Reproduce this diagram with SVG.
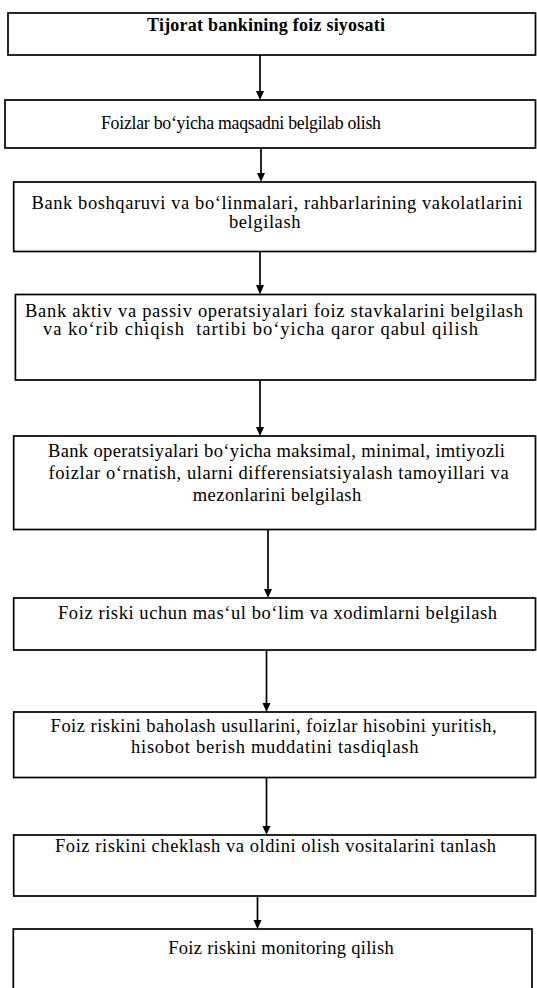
<svg xmlns="http://www.w3.org/2000/svg" width="537" height="988" viewBox="0 0 537 988">
  <defs>
    <style>
      .box { fill: #fff; stroke: #000; stroke-width: 1.7; }
      .lbl { font-family: "Liberation Serif", "Times New Roman", serif; font-size: 18.5px; fill: #000; text-anchor: middle; }
      .ttl { font-weight: bold; font-size: 18px; }
      .sm { font-size: 17.8px; }
      .link { stroke: #000; stroke-width: 1.7; fill: none; }
      .head { fill: #000; }
    </style>
  </defs>
  <rect width="537" height="988" fill="#fff"/>

  <!-- connectors: vertical links with filled arrowheads -->
  <g id="connectors">
    <line class="link" x1="260" y1="55" x2="260" y2="92"/>
    <path class="head" d="M256,91 L264,91 L260,100 Z"/>
    <line class="link" x1="261" y1="148" x2="261" y2="174"/>
    <path class="head" d="M257,173 L265,173 L261,182 Z"/>
    <line class="link" x1="260" y1="251.5" x2="260" y2="286"/>
    <path class="head" d="M256,285 L264,285 L260,294.5 Z"/>
    <line class="link" x1="260" y1="380" x2="260" y2="428"/>
    <path class="head" d="M256,427 L264,427 L260,436 Z"/>
    <line class="link" x1="268" y1="529.5" x2="268" y2="590"/>
    <path class="head" d="M264,589 L272,589 L268,598 Z"/>
    <line class="link" x1="266.5" y1="650" x2="266.5" y2="704"/>
    <path class="head" d="M262.5,703 L270.5,703 L266.5,712 Z"/>
    <line class="link" x1="266.5" y1="777.5" x2="266.5" y2="827"/>
    <path class="head" d="M262.5,826 L270.5,826 L266.5,835 Z"/>
    <line class="link" x1="257.5" y1="896" x2="257.5" y2="921"/>
    <path class="head" d="M253.5,920 L261.5,920 L257.5,929 Z"/>
  </g>

  <!-- nodes -->
  <g id="n1">
    <rect class="box" x="8" y="13" width="527.5" height="42"/>
    <text class="lbl ttl" x="266" y="30.5" textLength="238" lengthAdjust="spacing">Tijorat bankining foiz siyosati</text>
  </g>
  <g id="n2">
    <rect class="box" x="5" y="100" width="530.5" height="48"/>
    <text class="lbl sm" x="241" y="128.5" textLength="280" lengthAdjust="spacing">Foizlar bo‘yicha maqsadni belgilab olish</text>
  </g>
  <g id="n3">
    <rect class="box" x="13.7" y="182" width="521.8" height="69.5"/>
    <text class="lbl" x="277" y="208.5" textLength="491" lengthAdjust="spacing">Bank boshqaruvi va bo‘linmalari, rahbarlarining vakolatlarini</text>
    <text class="lbl" x="265" y="227.5" letter-spacing="0.6">belgilash</text>
  </g>
  <g id="n4">
    <rect class="box" x="15.4" y="294.5" width="520.1" height="85.5"/>
    <text class="lbl" x="274" y="316.5" textLength="498" lengthAdjust="spacing">Bank aktiv va passiv operatsiyalari foiz stavkalarini belgilash</text>
    <text class="lbl" x="260.5" y="335" textLength="435" lengthAdjust="spacing" xml:space="preserve">va ko‘rib chiqish  tartibi bo‘yicha qaror qabul qilish</text>
  </g>
  <g id="n5">
    <rect class="box" x="13.7" y="436" width="521.8" height="93.5"/>
    <text class="lbl" x="276.5" y="456.5" textLength="457" lengthAdjust="spacing">Bank operatsiyalari bo‘yicha maksimal, minimal, imtiyozli</text>
    <text class="lbl" x="278.6" y="478.5" textLength="460" lengthAdjust="spacing">foizlar o‘rnatish, ularni differensiatsiyalash tamoyillari va</text>
    <text class="lbl" x="277" y="501" textLength="168.5" lengthAdjust="spacing">mezonlarini belgilash</text>
  </g>
  <g id="n6">
    <rect class="box" x="13.7" y="598" width="521.8" height="52"/>
    <text class="lbl" x="277.5" y="618.5" textLength="439" lengthAdjust="spacing">Foiz riski uchun mas‘ul bo‘lim va xodimlarni belgilash</text>
  </g>
  <g id="n7">
    <rect class="box" x="13.7" y="712" width="521.8" height="65.5"/>
    <text class="lbl" x="273.6" y="732" textLength="446" lengthAdjust="spacing">Foiz riskini baholash usullarini, foizlar hisobini yuritish,</text>
    <text class="lbl" x="274.8" y="753" textLength="287.5" lengthAdjust="spacing">hisobot berish muddatini tasdiqlash</text>
  </g>
  <g id="n8">
    <rect class="box" x="13.7" y="835" width="521.8" height="61"/>
    <text class="lbl" x="275.5" y="851.5" textLength="441" lengthAdjust="spacing">Foiz riskini cheklash va oldini olish vositalarini tanlash</text>
  </g>
  <g id="n9">
    <rect class="box" x="13.3" y="929" width="518.7" height="70"/>
    <text class="lbl" x="281" y="953.5" textLength="225.5" lengthAdjust="spacing">Foiz riskini monitoring qilish</text>
  </g>
</svg>
